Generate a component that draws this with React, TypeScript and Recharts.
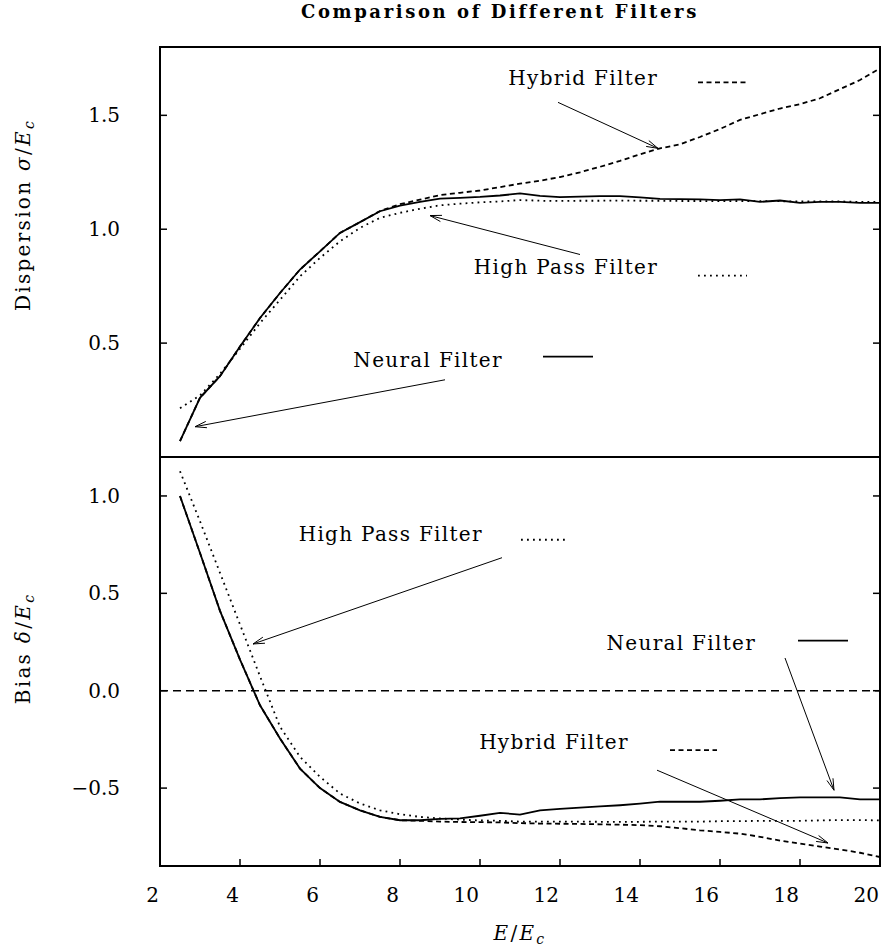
import React from "react";
import { LineChart, Line, XAxis, YAxis, ReferenceLine, ReferenceArea, ReferenceDot, Label } from "recharts";

const energy = [2.5, 3, 3.5, 4, 4.5, 5, 5.5, 6, 6.5, 7, 7.5, 8, 8.5, 9, 9.5, 10, 10.5, 11, 11.5, 12, 12.5, 13, 13.5, 14, 14.5, 15, 15.5, 16, 16.5, 17, 17.5, 18, 18.5, 19, 19.5, 20];

const neuralDispersion = [0.07, 0.26, 0.355, 0.485, 0.61, 0.72, 0.823, 0.903, 0.984, 1.031, 1.079, 1.104, 1.12, 1.134, 1.138, 1.142, 1.148, 1.157, 1.146, 1.141, 1.143, 1.145, 1.145, 1.14, 1.133, 1.132, 1.131, 1.128, 1.131, 1.12, 1.126, 1.116, 1.12, 1.12, 1.116, 1.116];
const hybridDispersion = [0.07, 0.26, 0.355, 0.485, 0.61, 0.72, 0.823, 0.903, 0.984, 1.031, 1.08, 1.11, 1.13, 1.15, 1.16, 1.17, 1.185, 1.2, 1.213, 1.229, 1.25, 1.274, 1.3, 1.329, 1.355, 1.373, 1.405, 1.44, 1.48, 1.505, 1.53, 1.549, 1.575, 1.615, 1.655, 1.706];
const highPassDispersion = [0.214, 0.27, 0.365, 0.475, 0.588, 0.69, 0.793, 0.874, 0.947, 1.006, 1.05, 1.072, 1.09, 1.105, 1.112, 1.118, 1.122, 1.128, 1.125, 1.124, 1.125, 1.125, 1.126, 1.125, 1.125, 1.124, 1.124, 1.123, 1.124, 1.123, 1.123, 1.122, 1.122, 1.122, 1.12, 1.12];

const neuralBias = [1.0, 0.707, 0.41, 0.16, -0.075, -0.245, -0.4, -0.5, -0.571, -0.614, -0.648, -0.665, -0.665, -0.658, -0.655, -0.642, -0.627, -0.636, -0.614, -0.607, -0.6, -0.594, -0.588, -0.58, -0.57, -0.57, -0.57, -0.565, -0.558, -0.558, -0.552, -0.548, -0.548, -0.548, -0.558, -0.558];
const hybridBias = [1.0, 0.707, 0.41, 0.16, -0.075, -0.245, -0.4, -0.5, -0.571, -0.614, -0.648, -0.665, -0.668, -0.672, -0.674, -0.675, -0.676, -0.68, -0.682, -0.683, -0.684, -0.686, -0.688, -0.69, -0.696, -0.706, -0.717, -0.725, -0.734, -0.75, -0.77, -0.785, -0.8, -0.815, -0.832, -0.854];
const highPassBias = [1.127, 0.87, 0.605, 0.34, 0.074, -0.185, -0.34, -0.442, -0.528, -0.579, -0.614, -0.634, -0.648, -0.656, -0.662, -0.666, -0.668, -0.672, -0.672, -0.672, -0.672, -0.673, -0.673, -0.673, -0.672, -0.672, -0.672, -0.67, -0.67, -0.668, -0.668, -0.668, -0.666, -0.664, -0.664, -0.666];

const xTicks = [2, 4, 6, 8, 10, 12, 14, 16, 18, 20];
const dispersionTicks = [0.5, 1.0, 1.5];
const biasTicks = [-0.5, 0.0, 0.5, 1.0];

const TITLE = "Comparison of Different Filters";
const LABEL_NEURAL = "Neural Filter";
const LABEL_HYBRID = "Hybrid Filter";
const LABEL_HIGHPASS = "High Pass Filter";

const FONT = "DejaVu Serif";
const TICK_FS = 20;
const NOTE_FS = 20;

const STYLE_SOLID = { stroke: "#000", strokeWidth: 1.8 };
const STYLE_DASH = { stroke: "#000", strokeWidth: 1.8, strokeDasharray: "5 3.5" };
const STYLE_DOT = { stroke: "#000", strokeWidth: 1.8, strokeDasharray: "1.8 4.2" };

// annotation placements (data coordinates of each panel)
const topNotes = [
  { text: LABEL_HYBRID, tx: 14.45, ty: 1.632, s: [15.45, 16.675], sy: 1.645, style: STYLE_DASH, arrow: [11.95, 1.557, 14.45, 1.355] },
  { text: LABEL_HIGHPASS, tx: 14.45, ty: 0.803, s: [15.45, 16.675], sy: 0.796, style: STYLE_DOT, arrow: [12.5, 0.889, 8.75, 1.06] },
  { text: LABEL_NEURAL, tx: 10.57, ty: 0.397, s: [11.575, 12.825], sy: 0.441, style: STYLE_SOLID, arrow: [9.125, 0.339, 2.875, 0.133] },
];
const bottomNotes = [
  { text: LABEL_HIGHPASS, tx: 10.07, ty: 0.77, s: [11.025, 12.2], sy: 0.775, style: STYLE_DOT, arrow: [10.55, 0.683, 4.325, 0.24] },
  { text: LABEL_NEURAL, tx: 16.9, ty: 0.209, s: [17.95, 19.2], sy: 0.257, style: STYLE_SOLID, arrow: [17.625, 0.168, 18.85, -0.511] },
  { text: LABEL_HYBRID, tx: 13.72, ty: -0.3, s: [14.75, 15.925], sy: -0.305, style: STYLE_DASH, arrow: [14.425, -0.408, 18.7, -0.782] },
];

const topData = energy.map((e, i) => ({ e, neural: neuralDispersion[i], hybrid: hybridDispersion[i], highPass: highPassDispersion[i] }));
const bottomData = energy.map((e, i) => ({ e, neural: neuralBias[i], hybrid: hybridBias[i], highPass: highPassBias[i] }));

const fmt = (v: number) => {
  const s = Math.abs(v).toFixed(1);
  return v < 0 ? "\u2212" + s : s;
};

const LeftTick = (p: any) => (
  <g>
    <line x1={p.x} y1={p.y} x2={p.x + 7} y2={p.y} stroke="#000" strokeWidth={1.5} />
    <text x={p.x - 40} y={p.y} textAnchor="end" dominantBaseline="central" fontFamily={FONT} fontSize={TICK_FS} fill="#000">
      {fmt(p.payload.value)}
    </text>
  </g>
);
const RightTick = (p: any) => <line x1={p.x} y1={p.y} x2={p.x - 7} y2={p.y} stroke="#000" strokeWidth={1.5} />;
const BottomTick = (p: any) => (
  <g>
    <line x1={p.x} y1={p.y} x2={p.x} y2={p.y - 7} stroke="#000" strokeWidth={1.5} />
    <text x={p.x - 1} y={p.y + 36} textAnchor="end" fontFamily={FONT} fontSize={TICK_FS} fill="#000">
      {p.payload.value}
    </text>
  </g>
);
const TopTick = (p: any) => <line x1={p.x} y1={p.y} x2={p.x} y2={p.y + 7} stroke="#000" strokeWidth={1.5} />;

const arrowShape = (p: any) => {
  const { x1, y1, x2, y2 } = p;
  const ang = Math.atan2(y2 - y1, x2 - x1);
  const L = 12;
  const a = 0.27;
  const ax = x2 - L * Math.cos(ang - a);
  const ay = y2 - L * Math.sin(ang - a);
  const bx = x2 - L * Math.cos(ang + a);
  const by = y2 - L * Math.sin(ang + a);
  return (
    <g>
      <line x1={x1} y1={y1} x2={x2} y2={y2} stroke="#000" strokeWidth={1} />
      <polyline points={`${ax},${ay} ${x2},${y2} ${bx},${by}`} fill="none" stroke="#000" strokeWidth={1} />
    </g>
  );
};

const textShape = (label: string) => (p: any) => (
  <text x={p.cx} y={p.cy} textAnchor="end" fontFamily={FONT} fontSize={NOTE_FS} letterSpacing={1.3} fill="#000">
    {label}
  </text>
);

const yTitle = (main: string, sym: string, shift: number) => (props: any) => {
  const vb = props.viewBox;
  const cx = 30;
  const cy = vb.y + vb.height / 2 + shift;
  return (
    <text x={cx} y={cy} transform={`rotate(-90, ${cx}, ${cy})`} textAnchor="middle" fontFamily={FONT} fontSize={20} letterSpacing={2.3} fill="#000">
      {main}
      <tspan fontStyle="italic">{sym}</tspan>/<tspan fontStyle="italic">E</tspan>
      <tspan fontStyle="italic" fontSize={14} dy={4}>c</tspan>
    </text>
  );
};

const xTitle = (props: any) => {
  const vb = props.viewBox;
  const cx = vb.x + vb.width / 2;
  const cy = vb.y + 74;
  return (
    <text x={cx} y={cy} textAnchor="middle" fontFamily={FONT} fontSize={20} letterSpacing={2.3} fill="#000">
      <tspan fontStyle="italic">E</tspan>/<tspan fontStyle="italic">E</tspan>
      <tspan fontStyle="italic" fontSize={14} dy={4}>c</tspan>
    </text>
  );
};

const renderNotes = (notes: typeof topNotes, prefix: string) =>
  notes.flatMap((n, i) => [
    <ReferenceDot key={`${prefix}t${i}`} yAxisId="l" x={n.tx} y={n.ty} r={1} shape={textShape(n.text)} />,
    <ReferenceLine key={`${prefix}s${i}`} yAxisId="l" segment={[{ x: n.s[0], y: n.sy }, { x: n.s[1], y: n.sy }]} {...n.style} />,
    <ReferenceLine
      key={`${prefix}a${i}`}
      yAxisId="l"
      segment={[{ x: n.arrow[0], y: n.arrow[1] }, { x: n.arrow[2], y: n.arrow[3] }]}
      shape={arrowShape}
    />,
  ]);

export default function App() {
  return (
    <div style={{ position: "absolute", left: 0, top: 0, width: 886, height: 949, background: "#fff" }}>
      <svg width={886} height={40} style={{ position: "absolute", left: 0, top: 0 }}>
        <text x={301} y={18} fontFamily={FONT} fontWeight="bold" fontSize={18} letterSpacing={2.6} fill="#000">
          {TITLE}
        </text>
      </svg>

      <div style={{ position: "absolute", left: 0, top: 0 }}>
        <LineChart width={886} height={470} data={topData} margin={{ top: 47, right: 0, bottom: 0, left: 0 }}>
          <XAxis dataKey="e" type="number" domain={[2, 20]} allowDataOverflow height={13} tick={false} tickLine={false} axisLine={false} />
          <YAxis yAxisId="l" type="number" domain={[0, 1.8]} allowDataOverflow width={160} ticks={dispersionTicks} interval={0} tickSize={0} tickMargin={0} axisLine={false} tickLine={false} tick={<LeftTick />}>
            <Label content={yTitle("Dispersion ", "\u03C3", -37)} />
          </YAxis>
          <YAxis yAxisId="r" orientation="right" type="number" domain={[0, 1.8]} allowDataOverflow width={6} ticks={dispersionTicks} interval={0} tickSize={0} tickMargin={0} axisLine={false} tickLine={false} tick={<RightTick />} />
          <ReferenceArea yAxisId="l" x1={2} x2={20} y1={0} y2={1.8} fill="none" stroke="#000" strokeWidth={2} />
          <Line yAxisId="l" dataKey="highPass" type="linear" dot={false} isAnimationActive={false} {...STYLE_DOT} />
          <Line yAxisId="l" dataKey="hybrid" type="linear" dot={false} isAnimationActive={false} {...STYLE_DASH} />
          <Line yAxisId="l" dataKey="neural" type="linear" dot={false} isAnimationActive={false} {...STYLE_SOLID} />
          {renderNotes(topNotes, "top")}
        </LineChart>
      </div>

      <div style={{ position: "absolute", left: 0, top: 440 }}>
        <LineChart width={886} height={509} data={bottomData} margin={{ top: 17, right: 0, bottom: 0, left: 0 }}>
          <XAxis dataKey="e" type="number" domain={[2, 20]} allowDataOverflow height={83} ticks={xTicks} interval={0} tickSize={0} tickMargin={0} axisLine={false} tickLine={false} tick={<BottomTick />}>
            <Label content={xTitle} />
          </XAxis>
          <XAxis xAxisId="t" orientation="top" type="number" domain={[2, 20]} allowDataOverflow height={0} ticks={xTicks} interval={0} tickSize={0} tickMargin={0} axisLine={false} tickLine={false} tick={<TopTick />} />
          <YAxis yAxisId="l" type="number" domain={[-0.9, 1.2]} allowDataOverflow width={160} ticks={biasTicks} interval={0} tickSize={0} tickMargin={0} axisLine={false} tickLine={false} tick={<LeftTick />}>
            <Label content={yTitle("Bias ", "\u03B4", -13)} />
          </YAxis>
          <YAxis yAxisId="r" orientation="right" type="number" domain={[-0.9, 1.2]} allowDataOverflow width={6} ticks={biasTicks} interval={0} tickSize={0} tickMargin={0} axisLine={false} tickLine={false} tick={<RightTick />} />
          <ReferenceArea yAxisId="l" x1={2} x2={20} y1={-0.9} y2={1.2} fill="none" stroke="#000" strokeWidth={2} />
          <ReferenceLine yAxisId="l" y={0} stroke="#000" strokeWidth={1.5} strokeDasharray="8 5" />
          <Line yAxisId="l" dataKey="highPass" type="linear" dot={false} isAnimationActive={false} {...STYLE_DOT} />
          <Line yAxisId="l" dataKey="hybrid" type="linear" dot={false} isAnimationActive={false} {...STYLE_DASH} />
          <Line yAxisId="l" dataKey="neural" type="linear" dot={false} isAnimationActive={false} {...STYLE_SOLID} />
          {renderNotes(bottomNotes, "bot")}
        </LineChart>
      </div>
    </div>
  );
}
